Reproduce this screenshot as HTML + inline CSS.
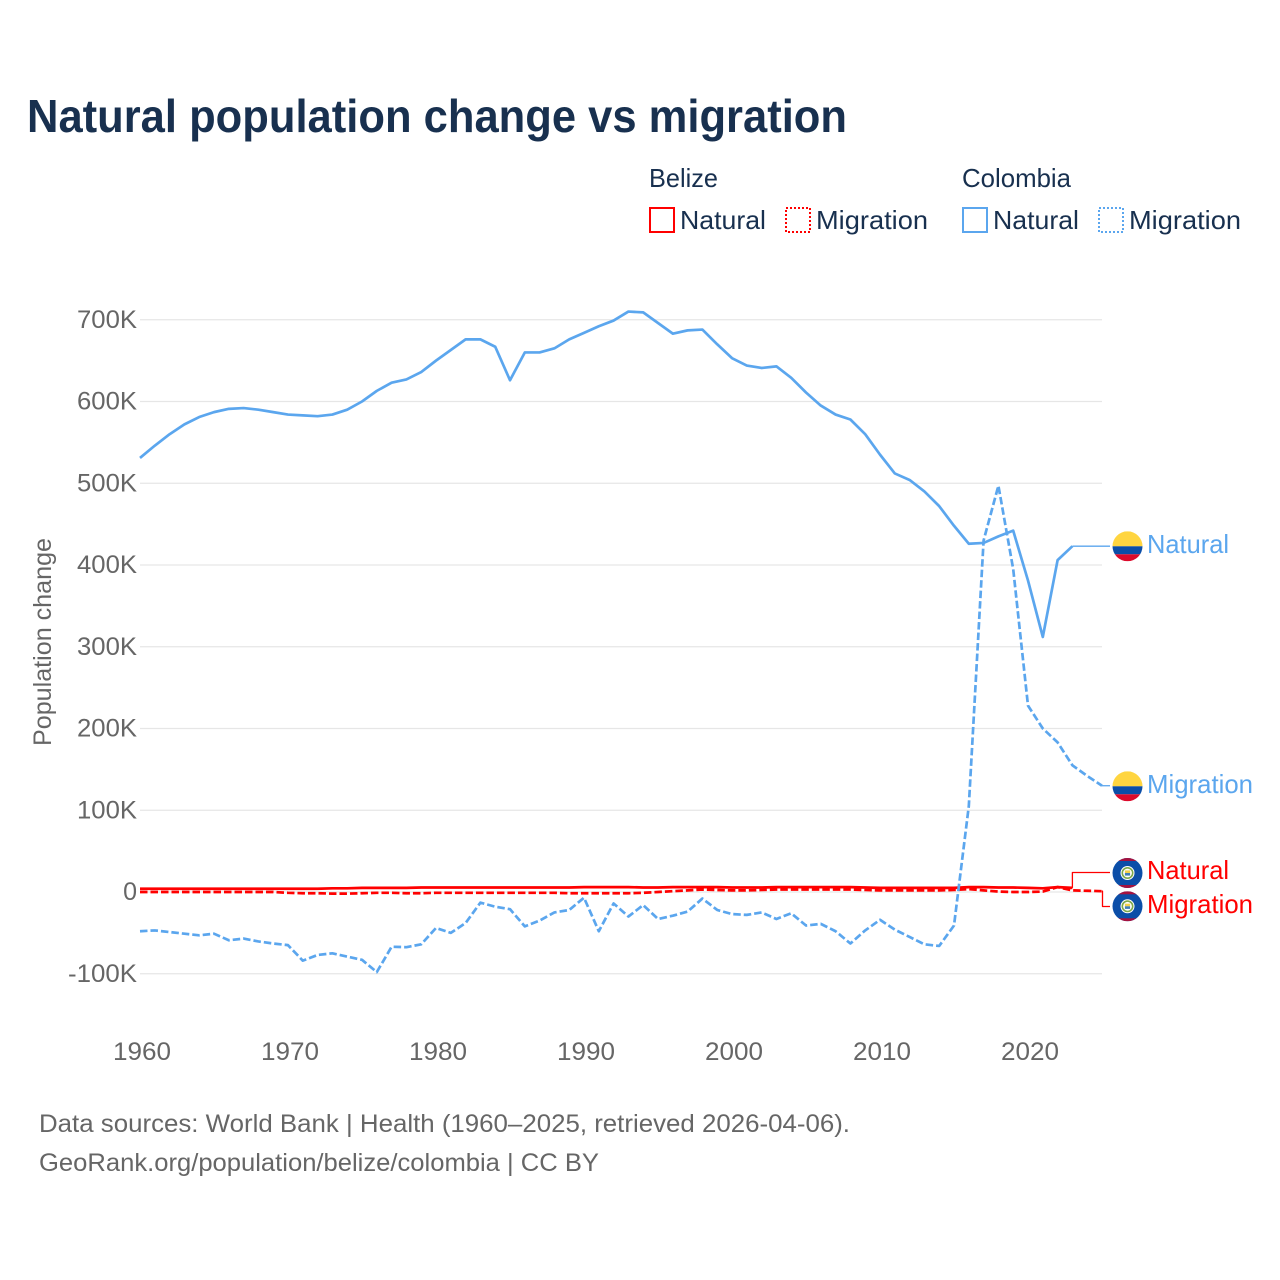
<!DOCTYPE html>
<html>
<head>
<meta charset="utf-8">
<style>
html,body{margin:0;padding:0;background:#fff;}
svg{display:block;font-family:"Liberation Sans",sans-serif;}
</style>
</head>
<body>
<svg id="chart" xmlns="http://www.w3.org/2000/svg" width="1280" height="1280" viewBox="0 0 1280 1280">
  <defs>
    <clipPath id="flag-clip"><circle cx="0" cy="0" r="15"/></clipPath>
  </defs>
  <rect width="1280" height="1280" fill="#fff"/>
  <text x="27" y="132" font-size="46" font-weight="700" fill="#18304f" textLength="820" lengthAdjust="spacingAndGlyphs">Natural population change vs migration</text>

  <g font-size="26" fill="#18304f">
    <text x="649" y="187" textLength="69" lengthAdjust="spacingAndGlyphs">Belize</text>
    <text x="962" y="187" textLength="109" lengthAdjust="spacingAndGlyphs">Colombia</text>
    <rect x="650" y="208" width="24" height="24" fill="none" stroke="#ff0000" stroke-width="2"/>
    <text x="680" y="229" textLength="86" lengthAdjust="spacingAndGlyphs">Natural</text>
    <rect x="786" y="208" width="24" height="24" fill="none" stroke="#ff0000" stroke-width="2" stroke-dasharray="2 2"/>
    <text x="816" y="229" textLength="112" lengthAdjust="spacingAndGlyphs">Migration</text>
    <rect x="963" y="208" width="24" height="24" fill="none" stroke="#5ba6ee" stroke-width="2"/>
    <text x="993" y="229" textLength="86" lengthAdjust="spacingAndGlyphs">Natural</text>
    <rect x="1099" y="208" width="24" height="24" fill="none" stroke="#5ba6ee" stroke-width="2" stroke-dasharray="2 2"/>
    <text x="1129" y="229" textLength="112" lengthAdjust="spacingAndGlyphs">Migration</text>
  </g>

  <text transform="translate(51,642) rotate(-90)" text-anchor="middle" font-size="25" fill="#666666" textLength="208" lengthAdjust="spacingAndGlyphs">Population change</text>

  <g id="grid"></g>
  <g id="yticks" font-size="25" fill="#666666" text-anchor="end"></g>
  <g id="xticks" font-size="25" fill="#666666" text-anchor="middle"></g>
  <g id="series" fill="none" stroke-linejoin="round"></g>

  <g id="flag-co-natural" transform="translate(1127.5,546.3)" clip-path="url(#flag-clip)">
    <rect x="-15" y="-15" width="30" height="15" fill="#ffd540"/>
    <rect x="-15" y="0" width="30" height="8" fill="#0b4ea8"/>
    <rect x="-15" y="8" width="30" height="7" fill="#dc0a2b"/>
  </g>
  <g id="flag-co-migration" transform="translate(1127.5,786.3)" clip-path="url(#flag-clip)">
    <rect x="-15" y="-15" width="30" height="15" fill="#ffd540"/>
    <rect x="-15" y="0" width="30" height="8" fill="#0b4ea8"/>
    <rect x="-15" y="8" width="30" height="7" fill="#dc0a2b"/>
  </g>
  <g id="flag-bz-natural" transform="translate(1127.5,873)" clip-path="url(#flag-clip)">
    <rect x="-15" y="-15" width="30" height="30" fill="#0b4ea8"/>
    <rect x="-15" y="-15" width="30" height="3" fill="#a5123f"/>
    <rect x="-15" y="12" width="30" height="3" fill="#a5123f"/>
    <circle r="7" fill="#fff"/>
    <circle r="5.2" fill="none" stroke="#7ca84a" stroke-width="1.6"/>
    <rect x="-2.6" y="-2.6" width="5.2" height="2.6" fill="#f2d04a"/>
    <rect x="-2.6" y="0" width="5.2" height="2.6" fill="#3f7fb8"/>
  </g>
  <g id="flag-bz-migration" transform="translate(1127.5,906.3)" clip-path="url(#flag-clip)">
    <rect x="-15" y="-15" width="30" height="30" fill="#0b4ea8"/>
    <rect x="-15" y="-15" width="30" height="3" fill="#a5123f"/>
    <rect x="-15" y="12" width="30" height="3" fill="#a5123f"/>
    <circle r="7" fill="#fff"/>
    <circle r="5.2" fill="none" stroke="#7ca84a" stroke-width="1.6"/>
    <rect x="-2.6" y="-2.6" width="5.2" height="2.6" fill="#f2d04a"/>
    <rect x="-2.6" y="0" width="5.2" height="2.6" fill="#3f7fb8"/>
  </g>

  <g font-size="26">
    <text x="1147" y="553" fill="#5ba6ee" textLength="82" lengthAdjust="spacingAndGlyphs">Natural</text>
    <text x="1147" y="793" fill="#5ba6ee" textLength="106" lengthAdjust="spacingAndGlyphs">Migration</text>
    <text x="1147" y="879" fill="#ff0000" textLength="82" lengthAdjust="spacingAndGlyphs">Natural</text>
    <text x="1147" y="913" fill="#ff0000" textLength="106" lengthAdjust="spacingAndGlyphs">Migration</text>
  </g>

  <g font-size="25" fill="#666666">
    <text x="39" y="1132" textLength="811" lengthAdjust="spacingAndGlyphs">Data sources: World Bank | Health (1960–2025, retrieved 2026-04-06).</text>
    <text x="39" y="1171" textLength="560" lengthAdjust="spacingAndGlyphs">GeoRank.org/population/belize/colombia | CC BY</text>
  </g>
</svg>
<script>
const startYear = 1960;
const xTickYears = [1960, 1970, 1980, 1990, 2000, 2010, 2020];
const yTickValues = [-100, 0, 100, 200, 300, 400, 500, 600, 700];
const yTickLabels = ["-100K", "0", "100K", "200K", "300K", "400K", "500K", "600K", "700K"];

const colombiaNatural = [531,546,560,572,581,587,591,592,590,587,584,583,582,584,590,600,613,623,627,636,650,663,676,676,667,626,660,660,665,676,684,692,699,710,709,696,683,687,688,670,653,644,641,643,629,611,595,584,578,560,535,512,504,490,472,448,426,427,435,442,381,312,406,423];
const colombiaMigration = [-48,-47,-49,-51,-53,-51,-59,-57,-60.5,-63,-65,-84,-77,-75,-79,-83,-98,-67,-67.5,-64,-44,-50,-38,-13,-18,-21,-42,-35,-25,-22,-7,-48,-14,-30,-16,-33,-29,-24,-8,-22,-27,-28,-25,-33,-26,-41,-39,-48,-63,-47,-34,-46,-55,-64,-66,-41,105,430,497,395,228,200,183,155,142,130];
const belizeNatural = [4,4,4,4,4,4,4,4,4,4,4,4,4,4.5,4.5,5,5,5,5,5.5,5.5,5.5,5.5,5.5,5.5,5.5,5.5,5.5,5.5,5.5,6,6,6,6,5.5,5.5,6,6,6,6,5.5,5.5,5.5,6,6,6,6,6,6,5.5,5,5,5,5,5,5,6,6,5.5,5.5,5,4.5,6,5];
const belizeMigration = [0,0,0,0,0,0,0,0,0,0,-1,-1.5,-1.5,-2,-2,-1.5,-1,-1,-1.5,-1.5,-1,-1,-1,-1,-1,-1,-1,-1,-1,-1.5,-1.5,-1.5,-1.5,-1.5,-1,0,1,2,3,2.5,2,2,2.5,3,3,3,3,3,3,2.5,2,2,2,2,2,2.5,3.5,2,0.5,0,0,0.5,6,2,1.5,1];

const plotLeft = 140;
const plotRight = 1102;
const zeroY = 892;
const pxPerThousand = 0.8175;
const svg = document.getElementById('chart');
const NS = 'http://www.w3.org/2000/svg';

function xScale(year) {
  return plotLeft + (year - startYear) * (plotRight - plotLeft) / 65;
}
function yScale(value) {
  return zeroY - value * pxPerThousand;
}
function linePoints(values) {
  return values.map(function (v, i) {
    return xScale(startYear + i).toFixed(2) + ',' + yScale(v).toFixed(2);
  }).join(' ');
}
function make(tag, attrs) {
  const el = document.createElementNS(NS, tag);
  Object.keys(attrs).forEach(function (k) { el.setAttribute(k, attrs[k]); });
  return el;
}

const grid = document.getElementById('grid');
const yticks = document.getElementById('yticks');
yTickValues.forEach(function (v, i) {
  const y = yScale(v);
  const gl = make('line', { x1: plotLeft, x2: plotRight, y1: y, y2: y, stroke: '#e6e6e6', 'stroke-width': 1.3 });
  
  
  grid.appendChild(gl);
  const t = make('text', { x: 137, y: y + 8 });
  
  
  const n = yTickLabels[i].length;
  if (n > 1) {
    t.setAttribute('textLength', n === 5 ? 69 : 60);
    t.setAttribute('lengthAdjust', 'spacingAndGlyphs');
  }
  t.textContent = yTickLabels[i];
  yticks.appendChild(t);
});

const xticks = document.getElementById('xticks');
xTickYears.forEach(function (year) {
  const t = make('text', { x: xScale(year) + 2, y: 1060, textLength: 58, lengthAdjust: 'spacingAndGlyphs' });
  
  
  t.textContent = String(year);
  xticks.appendChild(t);
});

const seriesGroup = document.getElementById('series');

const belizeNaturalLine = make('polyline', { points: linePoints(belizeNatural), stroke: '#ff0000', 'stroke-width': 2.7 });


seriesGroup.appendChild(belizeNaturalLine);

const belizeMigrationLine = make('polyline', { points: linePoints(belizeMigration), stroke: '#ff0000', 'stroke-width': 2.7, 'stroke-dasharray': '7.5 3' });


seriesGroup.appendChild(belizeMigrationLine);

const colombiaNaturalLine = make('polyline', { points: linePoints(colombiaNatural), stroke: '#5ba6ee', 'stroke-width': 2.7 });


seriesGroup.appendChild(colombiaNaturalLine);

const colombiaMigrationLine = make('polyline', { points: linePoints(colombiaMigration), stroke: '#5ba6ee', 'stroke-width': 2.7, 'stroke-dasharray': '7.5 3' });


seriesGroup.appendChild(colombiaMigrationLine);

function lastPoint(values) {
  return [xScale(startYear + values.length - 1), yScale(values[values.length - 1])];
}

const p1 = lastPoint(colombiaNatural);
const leader1 = make('polyline', { points: p1[0] + ',' + p1[1] + ' 1110,' + p1[1], stroke: '#5ba6ee', 'stroke-width': 1.3 });


seriesGroup.appendChild(leader1);

const p2 = lastPoint(colombiaMigration);
const leader2 = make('polyline', { points: p2[0] + ',' + p2[1] + ' 1110,' + p2[1], stroke: '#5ba6ee', 'stroke-width': 1.3 });


seriesGroup.appendChild(leader2);

const p3 = lastPoint(belizeNatural);
const leader3 = make('polyline', { points: p3[0] + ',' + p3[1] + ' ' + p3[0] + ',872.5 1110,872.5', stroke: '#ff0000', 'stroke-width': 1.3 });


seriesGroup.appendChild(leader3);

const p4 = lastPoint(belizeMigration);
const leader4 = make('polyline', { points: p4[0] + ',' + p4[1] + ' ' + (p4[0] + 0.5) + ',' + p4[1] + ' ' + (p4[0] + 0.5) + ',906.5 1110,906.5', stroke: '#ff0000', 'stroke-width': 1.3 });


seriesGroup.appendChild(leader4);
</script>
</body>
</html>
